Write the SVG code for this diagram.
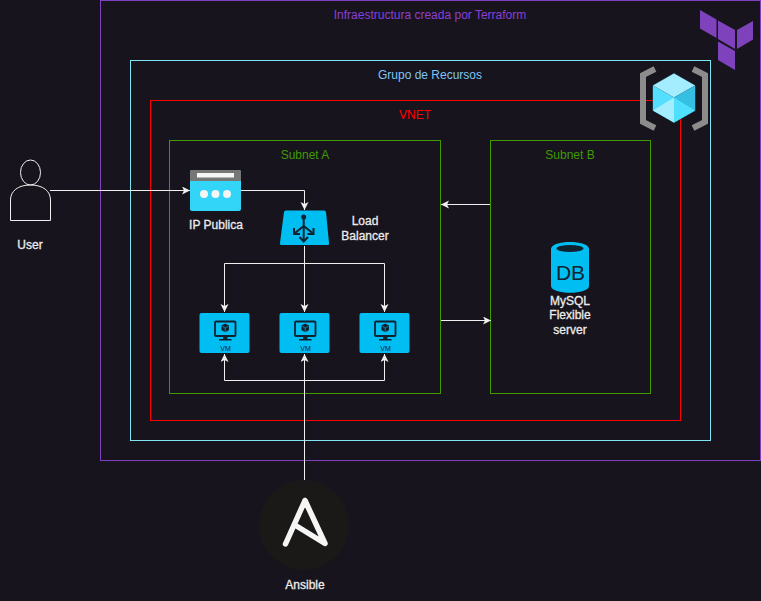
<svg xmlns="http://www.w3.org/2000/svg" width="761" height="601" viewBox="0 0 761 601">
<style>
text{font-family:"Liberation Sans",Arial,sans-serif;font-size:12px;text-anchor:middle}
.lbl{fill:#ececec;stroke:#ececec;stroke-width:.3}
.box{fill:none}
.c{fill:none;stroke:#f0f0f0;stroke-width:1}
.tile{fill:#00bef2}
.dk{fill:none;stroke:#10222f;stroke-width:1.8}
</style>
<defs>
<marker id="a" markerUnits="userSpaceOnUse" markerWidth="12" markerHeight="10" refX="8" refY="4" orient="auto"><path d="M0,0 L8,4 L0,8 L2,4 Z" fill="#f0f0f0"/></marker>
<g id="vm">
<rect x="0" y="0" width="50" height="40" rx="2" class="tile"/>
<rect x="15.500" y="8.500" width="20.500" height="14.500" rx="1" class="dk"/>
<path d="M25.700,10.500 l3.800,2 v4.500 l-3.800,2.200 l-3.800,-2.200 v-4.500z" fill="#10222f"/>
<path d="M22.200,13 l3.500,2 l3.500,-2 M25.700,15 v4" stroke="#00bef2" stroke-width=".6" fill="none"/>
<path d="M23.500,23.500 h4.500 v2.500 h4 v1.500 h-12.500 v-1.500 h4z" fill="#10222f"/>
<text x="26" y="37.500" style="font-size:7px" fill="#10222f">VM</text>
</g>
</defs>
<rect width="761" height="601" fill="#18141d"/>

<g id="terraform-box"><rect x="100.500" y="0.500" width="660" height="460" class="box" stroke="#8040bf"/><text x="430" y="19" fill="#8b3fd9">Infraestructura creada por Terraform</text></g>
<g id="resource-group"><rect x="130.500" y="60.500" width="580" height="380" class="box" stroke="#7fe5f5"/><text x="430" y="79" fill="#7ec4f5">Grupo de Recursos</text></g>
<g id="vnet"><rect x="150.500" y="100.500" width="530" height="320" class="box" stroke="#ff0000"/><text x="415" y="119" fill="#ff0000">VNET</text></g>
<g id="subnet-a"><rect x="169.500" y="140.500" width="271" height="253" class="box" stroke="#3f9a00"/><text x="305" y="159" fill="#3f9a00">Subnet A</text></g>
<g id="subnet-b"><rect x="490.500" y="140.500" width="160" height="253" class="box" stroke="#3f9a00"/><text x="570" y="159" fill="#3f9a00">Subnet B</text></g>

<g id="connectors">
<path class="c" d="M50,190.500 H190" marker-end="url(#a)"/>
<path class="c" d="M241,190.500 H304.500 V210" marker-end="url(#a)"/>
<path class="c" d="M304.500,246 V263.500 H224.500 V312" marker-end="url(#a)"/>
<path class="c" d="M304.500,246 V312" marker-end="url(#a)"/>
<path class="c" d="M304.500,263.500 H384.500 V312" marker-end="url(#a)"/>
<path class="c" d="M490,204.500 H441" marker-end="url(#a)"/>
<path class="c" d="M441,320.500 H491" marker-end="url(#a)"/>
<path class="c" d="M304.500,490 V354" marker-end="url(#a)"/>
<path class="c" d="M304.500,380.500 H224.500 V354" marker-end="url(#a)"/>
<path class="c" d="M304.500,380.500 H384.500 V354" marker-end="url(#a)"/>
</g>

<g id="terraform-logo" fill="#7f42bd">
<path d="M700,10 L716.500,19.500 V38 L700,28.500Z"/>
<path d="M718,20.500 L735,30 V49 L718,39Z"/>
<path d="M737,30 L753,21 V39.500 L737,49Z"/>
<path d="M718,41.500 L735,51 V70 L718,60Z"/>
</g>

<g id="resource-group-icon">
<path d="M655,69 L643,75 V122 L655,128" fill="none" stroke="#8c8c8c" stroke-width="6"/>
<path d="M693,69 L705,75 V122 L693,128" fill="none" stroke="#8c8c8c" stroke-width="6"/>
<path d="M653,85.500 L674,73.500 L695,85.500 V110.500 L674,122.500 L653,110.500Z" fill="none" stroke="#2a5a6c" stroke-width="1"/>
<path d="M653,85.500 L674,73.500 L695,85.500 L674,97.500Z" fill="#a3edff"/>
<path d="M653,85.500 L674,97.500 V122.500 L653,110.500Z" fill="#54deff"/>
<path d="M695,85.500 L674,97.500 V122.500 L695,110.500Z" fill="#35bfe0"/>
<path d="M653,110.500 L674,97.500 V122.500Z" fill="#a3edff"/>
<path d="M695,110.500 L674,97.500 V122.500Z" fill="#4fe0ff"/>
</g>

<g id="user">
<ellipse cx="30.500" cy="172.500" rx="10" ry="12.500" fill="none" stroke="#f0f0f0"/>
<path d="M10.500,220.500 V200 C10.500,191 18,185 30.500,185 C43,185 50.500,191 50.500,200 V220.500Z" fill="none" stroke="#f0f0f0"/>
<text x="30" y="249" class="lbl">User</text>
</g>

<g id="ip-publica">
<rect x="190" y="170" width="51" height="41" rx="2" fill="#32d4f7"/>
<path d="M190,181 V172 a2,2 0 0 1 2,-2 h47 a2,2 0 0 1 2,2 v9z" fill="#767676"/>
<rect x="197" y="173" width="37" height="4.500" fill="#f5f5f5"/>
<circle cx="204" cy="194" r="4" fill="#f5f5f5"/><circle cx="215.500" cy="194" r="4" fill="#f5f5f5"/><circle cx="227" cy="194" r="4" fill="#f5f5f5"/>
<text x="216" y="229" class="lbl">IP Publica</text>
</g>

<g id="load-balancer">
<path d="M286,210.500 H324 a2,2 0 0 1 2,1.500 L329,243 a1.500,1.500 0 0 1 -1.500,2 H281.500 a1.500,1.500 0 0 1 -1.500,-2 L284,212 a2,2 0 0 1 2,-1.500Z" class="tile"/>
<path d="M303.700,217 V240.500 M303.700,226 L295,233 M303.700,226 L312.500,233" stroke="#10222f" stroke-width="2" fill="none"/>
<circle cx="303.700" cy="217" r="2.500" fill="#10222f"/>
<path d="M294,228 V234 H300 M313.500,228 V234 H307.500 M299.500,237 L303.700,241.500 L308,237" stroke="#10222f" stroke-width="2" fill="none"/>
<text x="365" y="225" class="lbl">Load</text>
<text x="365" y="240" class="lbl">Balancer</text>
</g>

<g id="vm-a"><use href="#vm" x="199.500" y="313"/></g>
<g id="vm-b"><use href="#vm" x="279.500" y="313"/></g>
<g id="vm-c"><use href="#vm" x="359.500" y="313"/></g>

<g id="mysql">
<path d="M551,249 C551,239.500 589,239.500 589,249 V286 C589,295 551,295 551,286Z" class="tile"/>
<ellipse cx="570" cy="248.500" rx="13.500" ry="3.500" fill="#10222f"/>
<text x="570.500" y="280" style="font-size:21px" fill="#10222f">DB</text>
<text x="570" y="305" class="lbl">MySQL</text>
<text x="570" y="319" class="lbl">Flexible</text>
<text x="570" y="334" class="lbl">server</text>
</g>

<g id="ansible">
<circle cx="304" cy="525" r="45" fill="#1a1918"/>
<path d="M305,500.500 L325,543.500 L296.500,526 M305,500.500 L285.500,544" fill="none" stroke="#f5f5f5" stroke-width="5.500" stroke-linecap="round" stroke-linejoin="round"/>
<text x="305" y="589" class="lbl">Ansible</text>
</g>
</svg>
